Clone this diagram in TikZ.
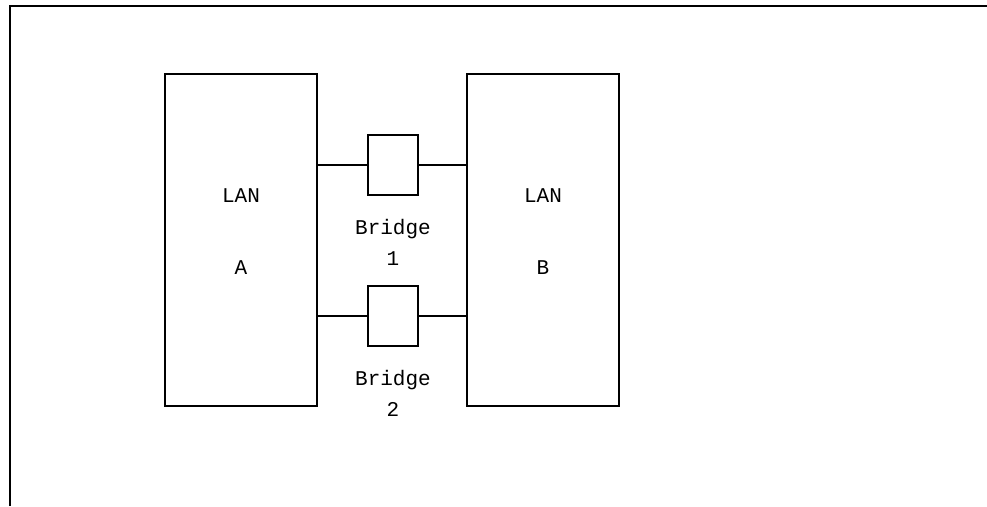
\documentclass[tikz,border=0pt]{standalone}
\usepackage{fontspec}
\setmonofont{Liberation Mono}
\begin{document}
\begin{tikzpicture}[x=1pt,y=-1pt,line width=1.4pt,
  lan/.style={draw, rectangle, minimum width=152pt, minimum height=332pt, inner sep=0pt},
  bridge/.style={draw, rectangle, minimum width=50pt, minimum height=60pt, inner sep=0pt},
  lbl/.style={font=\ttfamily\fontsize{21}{31}\selectfont, align=center, inner sep=0pt}]
\useasboundingbox (0,0) rectangle (987,506);
% frame
\coordinate (fa) at (10,506);
\coordinate (fb) at (10,6);
\coordinate (fc) at (987,6);
\draw[line width=2pt] (fa) -- (fb) -- (fc);
% LANs
\node[lan] (lanA) at (241,240) {};
\node[lan] (lanB) at (543,240) {};
\node[lbl] (lanAt) at (241,196) {LAN};
\node[lbl] (lanAn) at (241,268) {A};
\node[lbl] (lanBt) at (543,196) {LAN};
\node[lbl] (lanBn) at (543,268) {B};
% bridges
\node[bridge] (br1) at (393,165) {};
\node[bridge] (br2) at (393,316) {};
\node[lbl] (br1t) at (393,242) {Bridge\\1};
\node[lbl] (br2t) at (393,393) {Bridge\\2};
\draw (lanA.east |- br1.west) -- (br1.west);
\draw (br1.east) -- (lanB.west |- br1.east);
\draw (lanA.east |- br2.west) -- (br2.west);
\draw (br2.east) -- (lanB.west |- br2.east);
\end{tikzpicture}
\end{document}
